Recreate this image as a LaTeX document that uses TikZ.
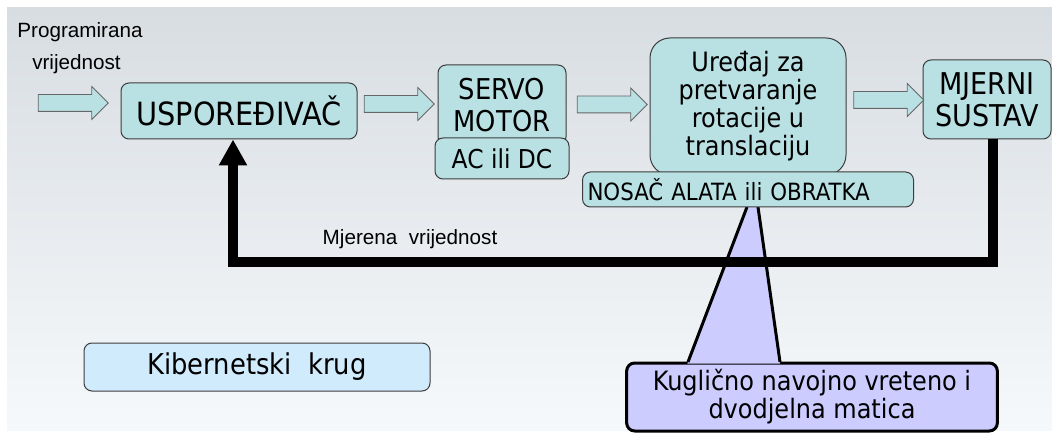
\documentclass[tikz,border=0pt]{standalone}
\usepackage{fontspec}
\setmainfont{DejaVu Sans Condensed}
\newfontfamily\labelfont{Liberation Sans}
\usetikzlibrary{shapes.arrows,arrows.meta}

\definecolor{boxcyan}{RGB}{185,225,228}
\definecolor{boxline}{RGB}{60,60,60}
\definecolor{kibblue}{RGB}{207,235,252}
\definecolor{calloutfill}{RGB}{204,204,255}
\definecolor{bgtop}{RGB}{216,221,226}
\definecolor{bgbot}{RGB}{246,249,251}

\tikzset{
	blok/.style={draw=boxline, fill=boxcyan, rounded corners=6pt, line width=0.75pt, align=center, inner sep=0pt},
	strelica/.style={single arrow, draw=gray!80!black, fill=boxcyan, line width=0.6pt, minimum height=52.5pt, inner xsep=0pt, inner ysep=6pt, single arrow head extend=6pt},
	oznaka/.style={font={\labelfont\fontsize{15.5}{18}\selectfont}, inner sep=0pt},
}

\begin{document}
\begin{tikzpicture}[x=0.75pt, y=-0.75pt]
		\useasboundingbox (0,0) rectangle (1052,434);
		\shade[top color=bgtop, bottom color=bgbot] (7,8) rectangle (1052,430);

		% oblacic s vretenom
		\node[draw=black, line width=2.25pt, fill=calloutfill, rounded corners=6pt, minimum width=278pt, minimum height=51pt, align=center, font=\fontsize{20}{21}\selectfont] (kugl) at (812,397) {Kuglično navojno vreteno i\\dvodjelna matica};
		\fill[calloutfill] (687.4,363.6) -- (747,207) -- (758,207) -- (780.2,363.6) -- cycle;
		\draw[line width=2.25pt] (688,362) -- (747,207) (758,207) -- (780,362);

		\node[blok, minimum width=177pt, minimum height=42pt, font=\fontsize{24}{25}\selectfont] (usp) at (239,111) {USPOREĐIVAČ};
		\node[blok, minimum width=96pt, minimum height=60pt, font=\fontsize{21.5}{24}\selectfont] (servo) at (502,105) {SERVO\\MOTOR};
		\node[blok, minimum width=100.5pt, minimum height=30.75pt, font=\fontsize{19.5}{21}\selectfont] (acdc) at (502,158.5) {AC ili DC};
		\node[blok, rounded corners=15pt, minimum width=147pt, minimum height=102.75pt, font=\fontsize{20}{21}\selectfont] (ured) at (748,106.5) {Uređaj za\\pretvaranje\\rotacije u\\translaciju};
		\node[blok, anchor=west, inner xsep=3.75pt, text width=240.75pt, align=left, minimum height=26.25pt, font=\fontsize{17.8}{19}\selectfont] (nosac) at (582,189.5) {NOSAČ ALATA ili OBRATKA};
		\node[blok, minimum width=96pt, minimum height=59.25pt, font=\fontsize{22.5}{24}\selectfont] (mjer) at (987,99.5) {MJERNI\\SUSTAV};
		\node[blok, fill=kibblue, minimum width=259.5pt, minimum height=36pt, font=\fontsize{21.5}{23}\selectfont] (kib) at (257,367) {Kibernetski\ \ krug};

		\node[strelica] (ulaz) at (69,103) {};
		\node[strelica] (s1) at (395,104) {};
		\node[strelica] (s2) at (608,104.5) {};
		\node[strelica] (s3) at (884.5,100) {};

		% povratna veza
		\coordinate (fbkut) at (233,262);
		\draw[line width=7pt, -{Triangle[width=20pt,length=19.5pt]}] ([xshift=4.5pt]mjer.south) |- (fbkut) -- ([xshift=-4.5pt]usp.south);

		\node[oznaka] (prog) at (80,32) {Programirana};
		\node[oznaka] (vrij) at (76.5,64) {vrijednost};
		\node[oznaka] (mjerena) at (410,239) {Mjerena\ \ vrijednost};
	\end{tikzpicture}
\end{document}
